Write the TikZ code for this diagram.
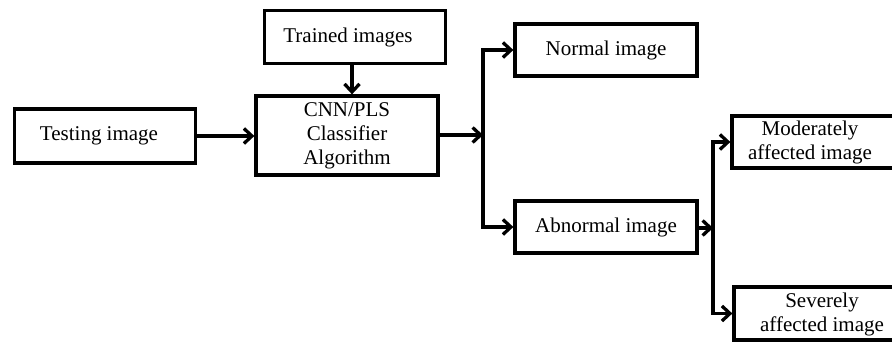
\documentclass[tikz,border=0pt]{standalone}
\usepackage{fontspec}
\setmainfont{Liberation Serif}
\usetikzlibrary{arrows.meta}
\begin{document}
\begin{tikzpicture}[x=1pt,y=-1pt,
  box/.style={draw,line width=3.3pt,inner sep=0pt,align=center,
    font=\fontsize{21}{24}\selectfont},
  txt/.style={inner sep=0pt,align=center,font=\fontsize{21}{24}\selectfont},
  arr/.style={line width=3.3pt,-{Straight Barb[length=8pt,width=15pt]}},
  ln/.style={line width=3.3pt}]
\useasboundingbox (0,0) rectangle (892,342);
\clip (0,0) rectangle (892,342);
\node[box,minimum width=181pt,minimum height=54pt] (test) at (105,136) {Testing image\hspace*{12pt}};
\node[box,minimum width=181pt,minimum height=53pt] (trained) at (355,37) {Trained images\hspace*{14pt}};
\node[box,minimum width=182pt,minimum height=79pt] (cnn) at (347,135.5) {CNN/PLS\\Classifier\\Algorithm};
\node[box,minimum width=182pt,minimum height=52pt] (normal) at (606,50) {Normal image};
\node[box,minimum width=182pt,minimum height=52pt] (abnormal) at (606,227) {Abnormal image};
\node[box,minimum width=170pt,minimum height=52pt] (mod) at (817,142) {};
\node[txt] (modtext) at (810,142) {Moderately\\affected image};
\node[box,minimum width=170pt,minimum height=53pt] (sev) at (819,313.5) {};
\node[txt] (sevtext) at (822,314) {Severely\\affected image};
\coordinate (tx) at (352,0);
\coordinate (b1) at (483,135);
\coordinate (b2) at (713,228);
\draw[arr] (test.east) -- (test.east -| cnn.west);
\draw[arr] (trained.south -| tx) -- (cnn.north -| tx);
\draw[arr] (cnn.east |- b1) -- (b1);
\draw[arr] (b1) |- (normal.west);
\draw[arr] (b1) |- (abnormal.west);
\draw[arr] (abnormal.east |- b2) -- (b2);
\draw[arr] (b2) |- (mod.west);
\draw[arr] (b2) |- (sev.west);
\end{tikzpicture}
\end{document}
